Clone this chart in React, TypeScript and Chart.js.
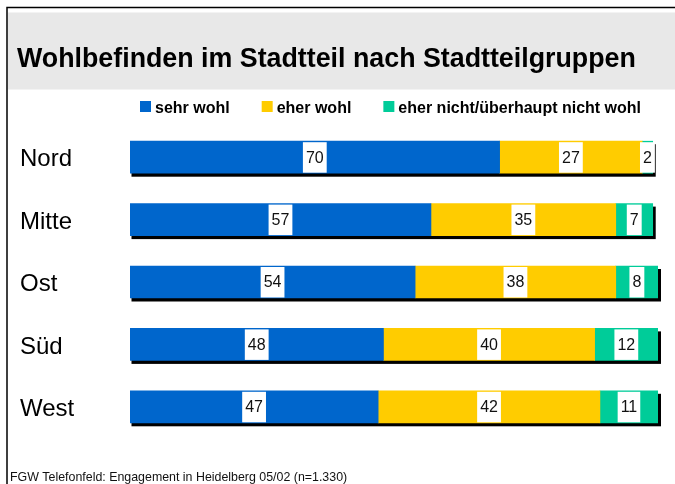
import React, { useEffect, useRef } from "react";
import { Chart, registerables } from "chart.js";

Chart.register(...registerables);

const TITLE = "Wohlbefinden im Stadtteil nach Stadtteilgruppen";
const FOOTNOTE = "FGW Telefonfeld: Engagement in Heidelberg 05/02 (n=1.330)";
const categories = ["Nord", "Mitte", "Ost", "Süd", "West"];
const seriesNames = ["sehr wohl", "eher wohl", "eher nicht/überhaupt nicht wohl"];
const sehrWohl = [70, 57, 54, 48, 47];
const eherWohl = [27, 35, 38, 40, 42];
const eherNicht = [2, 7, 8, 12, 11];
const seriesColors = ["#0066CC", "#FFCC00", "#00CC99"];
const xTicks = [0, 100];

const FONT = '"Liberation Sans", Arial, Helvetica, sans-serif';

const framePlugin = {
  id: "frame",
  beforeDraw(chart: any) {
    const ctx = chart.ctx;
    const W = chart.width;
    const H = chart.height;
    ctx.save();
    ctx.fillStyle = "#ffffff";
    ctx.fillRect(0, 0, W, H);
    // grey title band
    ctx.fillStyle = "#E8E8E8";
    ctx.fillRect(8, 12.5, W - 8, 77);
    // frame lines
    ctx.strokeStyle = "#000000";
    ctx.lineWidth = 1.5;
    ctx.beginPath();
    ctx.moveTo(7, H);
    ctx.lineTo(7, 7.5);
    ctx.lineTo(W, 7.5);
    ctx.stroke();
    // title
    ctx.fillStyle = "#000000";
    ctx.font = "bold 26.8px " + FONT;
    ctx.textAlign = "left";
    ctx.textBaseline = "alphabetic";
    ctx.fillText(TITLE, 17, 66.5);
    // footnote
    ctx.font = "12.4px " + FONT;
    ctx.fillStyle = "#111111";
    ctx.fillText(FOOTNOTE, 10, 481);
    ctx.restore();
  },
};

const shadowPlugin = {
  id: "barShadow",
  beforeDatasetsDraw(chart: any) {
    const ctx = chart.ctx;
    const xs = chart.scales.x;
    const meta0 = chart.getDatasetMeta(0);
    ctx.save();
    ctx.fillStyle = "#000000";
    categories.forEach((_, i) => {
      const total = sehrWohl[i] + eherWohl[i] + eherNicht[i];
      const el = meta0.data[i];
      if (!el) return;
      const p = el.getProps(["y", "height"], true);
      const x0 = xs.getPixelForValue(0);
      const x1 = xs.getPixelForValue(total);
      const top = p.y - p.height / 2;
      const bottom = p.y + p.height / 2;
      ctx.fillRect(x0 + 1.5, top + 3, x1 - x0 + 1.5, bottom - top + 0.5);
    });
    ctx.restore();
  },
};

const labelPlugin = {
  id: "valueLabels",
  afterDatasetsDraw(chart: any) {
    const ctx = chart.ctx;
    ctx.save();
    ctx.font = "16px " + FONT;
    ctx.textAlign = "center";
    ctx.textBaseline = "middle";
    chart.data.datasets.forEach((ds: any, di: number) => {
      const meta = chart.getDatasetMeta(di);
      meta.data.forEach((el: any, i: number) => {
        const v = ds.data[i];
        const p = el.getProps(["x", "y", "base", "height"], true);
        const cx = (p.x + p.base) / 2;
        const text = String(v);
        const tw = ctx.measureText(text).width;
        const bw = tw + 6;
        const bh = p.height - 1.5;
        ctx.fillStyle = "#ffffff";
        ctx.fillRect(cx - bw / 2, p.y - p.height / 2 + 1, bw, bh);
        ctx.fillStyle = "#111111";
        ctx.fillText(text, cx, p.y + 1);
      });
    });
    ctx.restore();
  },
};

const legendPlugin = {
  id: "customLegend",
  afterDraw(chart: any) {
    const ctx = chart.ctx;
    ctx.save();
    ctx.font = "bold 16px " + FONT;
    ctx.textAlign = "left";
    ctx.textBaseline = "alphabetic";
    let x = 140;
    seriesNames.forEach((name, i) => {
      ctx.fillStyle = seriesColors[i];
      ctx.fillRect(x, 101, 11, 11);
      ctx.fillStyle = "#000000";
      ctx.fillText(name, x + 15, 112.5);
      x += 15 + ctx.measureText(name).width + 32;
    });
    ctx.restore();
  },
};

export default function App() {
  const ref = useRef<HTMLCanvasElement | null>(null);
  useEffect(() => {
    const canvas = ref.current;
    if (!canvas) return;
    const chart = new Chart(canvas, {
      type: "bar",
      data: {
        labels: categories,
        datasets: [sehrWohl, eherWohl, eherNicht].map((d, i) => ({
          label: seriesNames[i],
          data: d,
          backgroundColor: seriesColors[i],
          borderWidth: 0,
          barThickness: 32,
        })),
      },
      options: {
        indexAxis: "y",
        responsive: false,
        animation: false,
        devicePixelRatio: 1,
        layout: { padding: { left: 20, right: 17, top: 126, bottom: 46 } },
        plugins: {
          legend: { display: false },
          tooltip: { enabled: false },
          title: { display: false },
        },
        scales: {
          x: {
            stacked: true,
            min: xTicks[0],
            max: xTicks[1],
            display: false,
          },
          y: {
            stacked: true,
            grid: { display: false },
            border: { display: false },
            afterFit: (scale: any) => {
              scale.width = 110;
            },
            ticks: {
              crossAlign: "far",
              labelOffset: 2.5,
              color: "#000000",
              font: { family: FONT, size: 24 },
            },
          },
        },
      },
      plugins: [framePlugin, shadowPlugin, labelPlugin, legendPlugin],
    } as any);
    return () => chart.destroy();
  }, []);
  return (
    <div style={{ position: "fixed", left: 0, top: 0, width: 675, height: 484 }}>
      <canvas ref={ref} width={675} height={484} style={{ display: "block" }} />
    </div>
  );
}
